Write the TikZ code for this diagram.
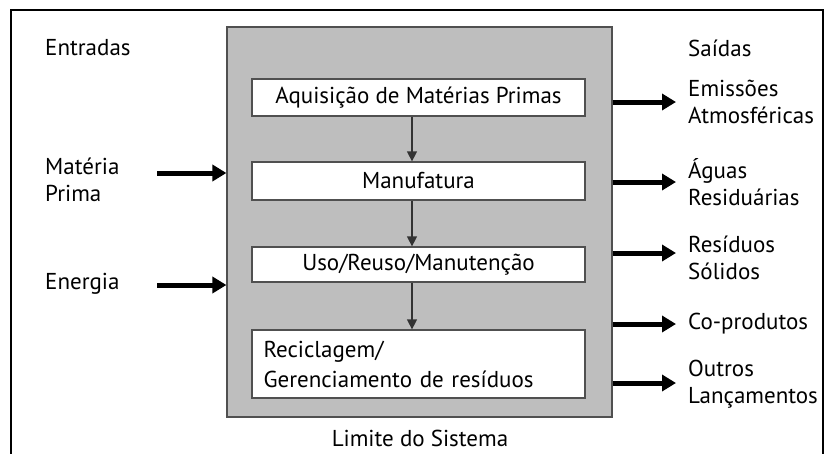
\documentclass[tikz,border=0pt]{standalone}
\usepackage{fontspec}
\setmainfont{PT Sans}
\usetikzlibrary{arrows.meta,calc}
\definecolor{sysgray}{HTML}{BEBEBE}
\definecolor{edgegray}{HTML}{505050}
\tikzset{
  lbl/.style={font=\fontsize{23}{27}\selectfont, text=black, inner sep=0pt, anchor=west, align=left},
  stage/.style={draw=edgegray, line width=1.3pt, fill=white, minimum width=333pt, font=\fontsize{23}{30}\selectfont, text=black, inner sep=0pt},
  flow/.style={line width=1.4pt, draw=black!80, -{Triangle[length=10pt,width=10pt]}},
  bigarrow/.style={line width=5pt, -{Triangle[length=14pt,width=16pt]}}
}
\begin{document}
\begin{tikzpicture}[x=1pt,y=-1pt]
\useasboundingbox (0,0) rectangle (827,453);
\draw[line width=1.5pt] (11,460) -- (11,10) -- (823,10) -- (823,460);
\node[draw=edgegray, line width=1.2pt, fill=sysgray, minimum width=385pt, minimum height=390pt, inner sep=0pt] (sys) at (419.5,222) {};
\node[stage, minimum height=37pt] (b1) at (418.5,97.5) {Aquisição de Matérias Primas};
\node[stage, minimum height=38pt] (b2) at (418.5,181) {Manufatura};
\node[stage, minimum height=35pt] (b3) at (418.5,264.5) {Uso/Reuso/Manutenção};
\node[stage, minimum height=68pt, align=left, text width=310pt] (b4) at (418.5,364) {Reciclagem/\\Gerenciamento de resíduos};
\coordinate (ax) at (412,0);
\draw[flow] (b1.south -| ax) -- (b2.north -| ax);
\draw[flow] (b2.south -| ax) -- (b3.north -| ax);
\draw[flow] (b3.south -| ax) -- (b4.north -| ax);
% inputs
\node[lbl] (ent) at (45,48) {Entradas};
\node[lbl] (mp) at (45,180) {Matéria\\Prima};
\node[lbl] (en) at (45,284) {Energia};
\coordinate (mpin) at (157,173);
\coordinate (enin) at (157,285);
\draw[bigarrow] (mpin) -- (mpin -| sys.west);
\draw[bigarrow] (enin) -- (enin -| sys.west);
% outputs
\node[lbl] (sai) at (688,48) {Saídas};
\node[lbl] (o1) at (688,102) {Emissões\\Atmosféricas};
\node[lbl] (o2) at (688,182) {Águas\\Residuárias};
\node[lbl] (o3) at (688,258) {Resíduos\\Sólidos};
\node[lbl] (o4) at (688,324) {Co-produtos};
\node[lbl] (o5) at (688,384) {Outros\\Lançamentos};
\coordinate (e1) at (676,102);
\coordinate (e2) at (676,182);
\coordinate (e3) at (676,253);
\coordinate (e4) at (676,324);
\coordinate (e5) at (676,383);
\foreach \e in {e1,e2,e3,e4,e5} \draw[bigarrow] (\e -| sys.east) -- (\e);
\node[lbl, anchor=center] (lim) at (420,438) {Limite do Sistema};
\end{tikzpicture}
\end{document}
